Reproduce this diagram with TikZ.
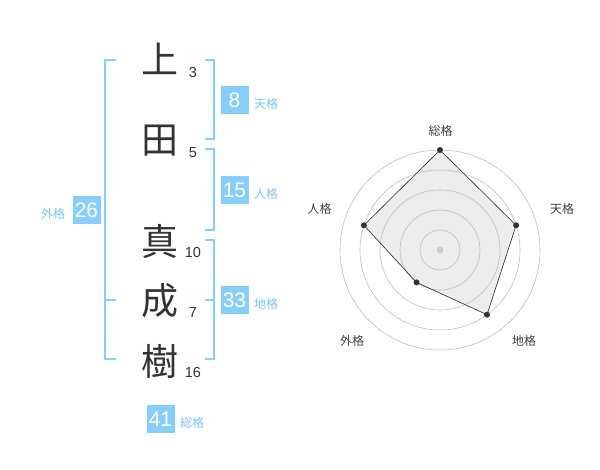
\documentclass[tikz,border=0pt]{standalone}
\usepackage{fontspec}
\setmainfont{Liberation Sans}
\newfontfamily\cjk{Noto Sans CJK JP}
\begin{document}
\begin{tikzpicture}[x=1pt,y=-1pt,
  kanji/.style={font=\cjk\fontsize{37}{37}\selectfont, text=black!80, inner sep=0pt},
  strk/.style={font=\fontsize{14.5}{14.5}\selectfont, text=black!80, inner sep=0pt},
  numbox/.style={fill=skyb, text=white, minimum width=28pt, minimum height=28pt, inner sep=0pt, font=\fontsize{21}{21}\selectfont},
  kaku/.style={font=\cjk\fontsize{12}{12}\selectfont, text=skyt, inner sep=0pt},
  brk/.style={draw=skyb, line width=2pt},
  rlab/.style={font=\cjk\fontsize{12}{12}\selectfont, text=black!75, inner sep=0pt},
  ring/.style={draw=black!25, line width=0.6pt},
  pt/.style={circle, fill=black!80, inner sep=0pt, minimum size=6pt}]
\definecolor{skyb}{HTML}{87CEFA}
\definecolor{skyt}{HTML}{7CC4F2}
\useasboundingbox (0,0) rectangle (600,470);
% kanji
\node[kanji] (k1) at (160,59) {上};
\node[kanji] (k2) at (160,141) {田};
\node[kanji] (k3) at (160,241) {真};
\node[kanji] (k4) at (160,301) {成};
\node[kanji] (k5) at (160,361) {樹};
\node[strk] (s1) at (193,73) {3};
\node[strk] (s2) at (193,153) {5};
\node[strk] (s3) at (193,253) {10};
\node[strk] (s4) at (193,313) {7};
\node[strk] (s5) at (193,373) {16};
% brackets
\draw[brk] (116,60) -- (105,60) -- (105,359) -- (116,359);
\draw[brk] (105,300) -- (116,300);
\draw[brk] (205,60) -- (214,60) -- (214,139) -- (205,139);
\draw[brk] (205,149) -- (214,149) -- (214,230) -- (205,230);
\draw[brk] (205,240) -- (214,240) -- (214,359) -- (205,359);
\draw[brk] (205,300) -- (214,300);
% boxes
\node[numbox] (gai) at (86.5,210) {26};
\node[kaku] (gail) at (53,214) {外格};
\node[numbox] (ten) at (234.5,100) {8};
\node[kaku] (tenl) at (266,104) {天格};
\node[numbox] (jin) at (234.5,190) {15};
\node[kaku] (jinl) at (266,194) {人格};
\node[numbox] (chi) at (234.5,300) {33};
\node[kaku] (chil) at (266,304) {地格};
\node[numbox] (sou) at (160.5,419) {41};
\node[kaku] (soul) at (192,423) {総格};
% radar
\coordinate (c) at (440,250);
\path (c) ++(0,-100) coordinate (pa)
      (c) ++(76.1,-24.7) coordinate (pb)
      (c) ++(47,64.7) coordinate (pc)
      (c) ++(-23.5,32.4) coordinate (pd)
      (c) ++(-76.1,-24.7) coordinate (pe);
\fill[black!7] (pa) -- (pb) -- (pc) -- (pd) -- (pe) -- cycle;
\foreach \r in {20,40,60,80,100} \draw[ring] (c) circle[radius=\r];
\fill[black!20] (c) circle[radius=3.5];
\draw[draw=black!85, line width=0.6pt] (pa) -- (pb) -- (pc) -- (pd) -- (pe) -- cycle;
\foreach \p in {pa,pb,pc,pd,pe} \node[pt] at (\p) {};
\node[rlab] (r1) at (440.5,130.5) {総格};
\node[rlab] (r2) at (562,208.5) {天格};
\node[rlab] (r3) at (524,341) {地格};
\node[rlab] (r4) at (352,341) {外格};
\node[rlab] (r5) at (319.5,209) {人格};
\end{tikzpicture}
\end{document}
